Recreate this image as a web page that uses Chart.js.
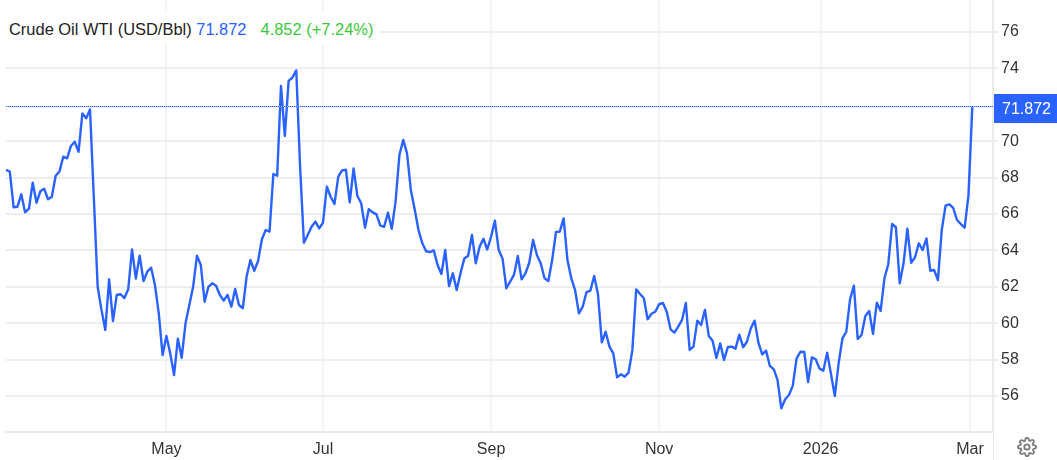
<!DOCTYPE html>
<html><head><meta charset="utf-8">
<style>
html,body{margin:0;padding:0;background:#fff;overflow:hidden}
#w{position:relative;width:1057px;height:460px}
canvas{position:absolute;left:0;top:0}
#leg{position:absolute;left:0;top:12px;height:31px;width:380px;background:#fff;font:16.45px "Liberation Sans",Arial,sans-serif;line-height:35px;white-space:pre;padding-left:9px;box-sizing:border-box;color:#222}
#gear{position:absolute;left:1017px;top:437px}
</style></head><body>
<div id="w"><canvas id="c" width="1057" height="460"></canvas>
<div id="leg">Crude Oil WTI (USD/Bbl) <span style="color:#2962ff">71.872</span><span style="margin-left:14px;color:#3cc83c">4.852 (+7.24%)</span></div>
<svg id="gear" width="20" height="20" viewBox="0 0 24 24" fill="none" stroke="#7d7d7d" stroke-width="2.2"><circle cx="12" cy="12" r="3.2"/><path d="M19.4 15a1.65 1.65 0 0 0 .33 1.82l.06.06a2 2 0 1 1-2.83 2.83l-.06-.06a1.65 1.65 0 0 0-2.82 1.17V21a2 2 0 1 1-4 0v-.09a1.65 1.65 0 0 0-2.82-1.08l-.06.06a2 2 0 1 1-2.83-2.83l.06-.06A1.65 1.65 0 0 0 3.09 14H3a2 2 0 1 1 0-4h.09a1.65 1.65 0 0 0 1.08-2.82l-.06-.06a2 2 0 1 1 2.83-2.83l.06.06A1.65 1.65 0 0 0 10 3.09V3a2 2 0 1 1 4 0v.09a1.65 1.65 0 0 0 2.82 1.08l.06-.06a2 2 0 1 1 2.83 2.83l-.06.06A1.65 1.65 0 0 0 20.91 10H21a2 2 0 1 1 0 4h-.09a1.65 1.65 0 0 0-1.51 1z"/></svg>
</div>
<script src="https://cdn.jsdelivr.net/npm/chart.js@4"></script>
<script>
const prices = [
68.42,68.33,66.37,66.40,67.08,66.09,66.29,67.72,66.62,67.25,67.39,66.81,66.95,68.10,68.34,69.15,69.06,69.74,69.97,69.42,71.53,71.26,71.75,66.88,
62.00,60.73,59.63,62.41,60.12,61.55,61.59,61.38,61.86,64.05,62.45,63.71,62.32,62.83,63.05,62.10,60.54,58.25,59.30,58.34,57.15,59.15,58.10,59.99,61.00,62.00,63.71,63.20,61.18,62.00,62.19,62.06,61.55,61.24,61.55,60.91,61.88,61.00,60.82,62.56,63.47,62.88,63.42,64.61,65.12,65.03,
68.20,68.10,73.03,70.29,73.32,73.50,73.89,68.60,64.42,64.85,65.30,65.58,65.21,65.52,67.50,66.95,66.55,68.05,68.40,68.43,66.64,
68.50,66.99,66.59,65.25,66.27,66.09,65.98,65.36,65.30,66.07,65.19,66.68,69.24,70.07,69.33,67.32,66.26,65.12,64.39,63.95,63.91,64.00,63.20,62.70,64.02,62.04,62.74,61.82,62.74,63.56,63.71,64.85,63.29,64.20,64.64,64.05,64.75,65.63,64.02,63.56,61.92,62.28,62.65,63.69,62.41,62.74,63.32,64.57,63.75,63.29,62.47,62.32,63.47,65.01,65.03,65.76,63.47,62.47,61.82,60.54,60.91,61.71,61.79,62.59,61.59,58.95,59.53,58.71,58.34,
57.02,57.19,57.06,57.28,58.53,61.86,61.60,61.37,60.21,60.52,60.63,61.04,61.11,60.63,59.66,59.48,59.81,60.18,61.11,58.53,58.71,60.14,59.90,60.73,59.30,59.04,58.09,58.89,57.98,58.69,58.71,58.60,59.37,58.68,58.98,59.71,60.14,58.93,58.29,58.49,57.65,57.47,56.88,55.32,55.82,56.05,56.57,58.07,58.43,58.42,56.77,58.12,58.02,57.50,57.39,58.38,57.21,56.00,57.79,59.17,59.53,61.31,
62.06,59.13,59.35,60.40,60.67,59.41,61.13,60.67,62.47,63.24,65.45,65.27,62.19,63.29,65.19,63.32,63.62,64.39,64.02,64.66,62.88,62.92,62.37,65.12,66.46,66.53,66.33,65.67,65.45,65.25,67.04,71.872];
const monthLabels = ["May","Jul","Sep","Nov","2026","Mar"];
const monthIndex = [42,83,127,171,213.3,252.4];
const priceTicks = [56,58,60,62,64,66,68,70,74,76];
const lastPrice = 71.872;
const lastLabel = "71.872";
const blue = "#2962ff";
const fontFamily = '"Liberation Sans",Arial,sans-serif';
const n = prices.length;
const frame = {
  id:"frame",
  beforeDatasetsDraw(ch){
    const {ctx,chartArea:a} = ch;
    ctx.save();
    ctx.strokeStyle="#ebebeb";ctx.lineWidth=2;
    ctx.beginPath();ctx.moveTo(a.right,0);ctx.lineTo(a.right,432);ctx.stroke();
    ctx.lineWidth=1;
    ctx.beginPath();ctx.moveTo(a.right+.5,432);ctx.lineTo(a.right+.5,460);ctx.stroke();
    ctx.restore();
  },
  afterDatasetsDraw(ch){
    const {ctx,chartArea:a,scales:{y}} = ch;
    const py=Math.floor(y.getPixelForValue(lastPrice))-.5;
    ctx.save();
    ctx.lineWidth=1;
    ctx.strokeStyle="#a9bfff";
    ctx.beginPath();ctx.moveTo(a.left,py);ctx.lineTo(a.right,py);ctx.stroke();
    ctx.strokeStyle=blue;ctx.setLineDash([1,1]);
    ctx.beginPath();ctx.moveTo(a.left,py);ctx.lineTo(a.right,py);ctx.stroke();
    ctx.setLineDash([]);
    ctx.fillStyle=blue;ctx.fillRect(a.right+1,94,63,29);
    ctx.fillStyle="#fff";ctx.font='16px '+fontFamily;
    ctx.textBaseline="middle";ctx.textAlign="left";
    ctx.fillText(lastLabel,a.right+9,109.5);
    ctx.restore();
  }
};
new Chart(document.getElementById("c"),{
  type:"line",
  data:{datasets:[{data:prices.map((v,i)=>({x:i,y:v})),borderColor:blue,borderWidth:2.4,pointRadius:0,tension:0,borderJoinStyle:"round",clip:false}]},
  plugins:[frame],
  options:{
    responsive:false,animation:false,parsing:false,normalized:true,
    layout:{padding:{left:6,right:0,top:0,bottom:0}},
    plugins:{legend:{display:false},tooltip:{enabled:false}},
    scales:{
      x:{type:"linear",min:0,max:(n-1)*987/966.3,
        afterBuildTicks(s){s.ticks=monthIndex.map(v=>({value:v}))},
        afterFit(s){s.height=28;s.paddingLeft=0;s.paddingRight=0},
        grid:{color:"#f1f4f9",lineWidth:2,tickLength:0},
        border:{color:"#ebebeb",width:2},
        ticks:{autoSkip:false,maxRotation:0,padding:8,color:"#333",font:{family:fontFamily,size:16},
          callback(v,i){return monthLabels[i]}}},
      y:{position:"right",min:54.02,max:77.76,
        afterBuildTicks(s){s.ticks=priceTicks.map(v=>({value:v}))},
        afterFit(s){s.width=64;s.paddingTop=0;s.paddingBottom=0},
        grid:{color:"#eeeeee",lineWidth:2,tickLength:5},
        border:{display:false},
        ticks:{padding:3,color:"#333",font:{family:fontFamily,size:16},callback:v=>String(v)}}
    }
  }
});
</script></body></html>
